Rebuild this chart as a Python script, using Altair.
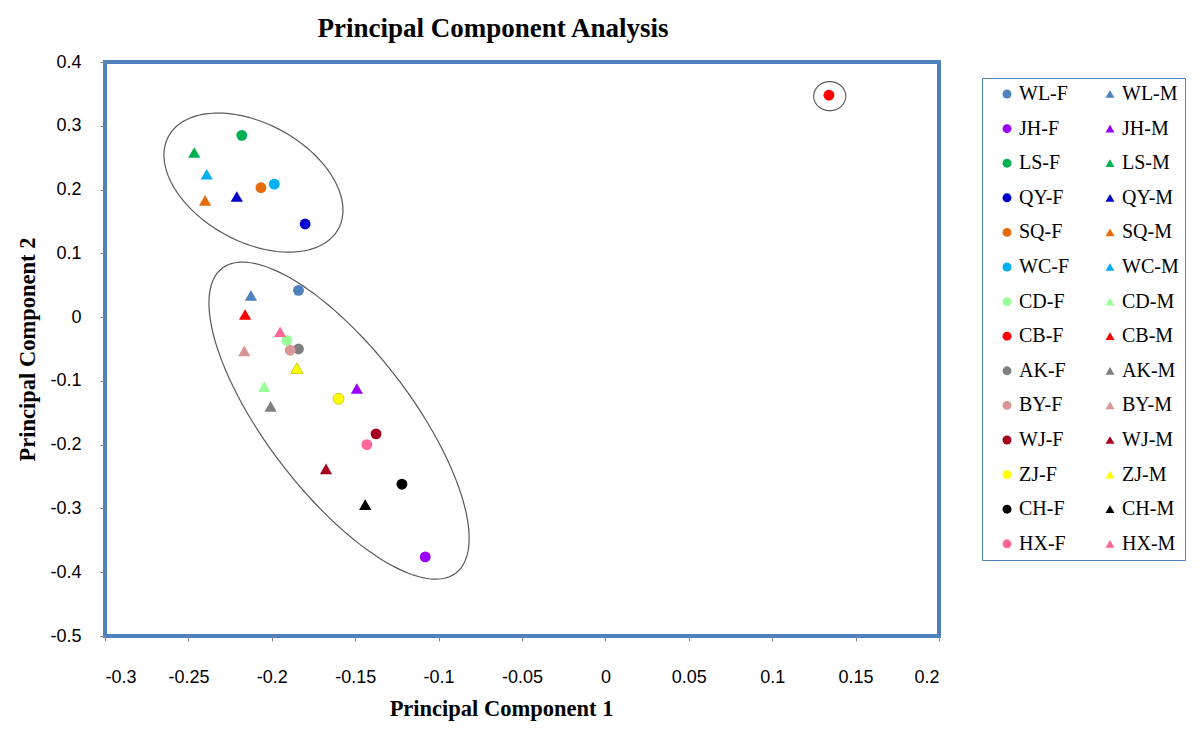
import altair as alt
import numpy as np
import pandas as pd

# ---- data ----
codes = ["WL", "JH", "LS", "QY", "SQ", "WC", "CD", "CB", "AK", "BY", "WJ", "ZJ", "CH", "HX"]
colors = ["#4F81BD", "#9900FF", "#00B050", "#0000CC", "#E46C0A", "#00B0F0", "#99FF99",
          "#FF0000", "#808080", "#D99694", "#A50021", "#FFFF00", "#000000", "#FF6699"]

f_pc1 = [-0.184, -0.108, -0.218, -0.180, -0.2065, -0.1985, -0.191, 0.134, -0.184, -0.189, -0.1375, -0.160, -0.122, -0.143]
f_pc2 = [0.042, -0.376, 0.285, 0.146, 0.203, 0.2085, -0.0365, 0.348, -0.050, -0.052, -0.183, -0.128, -0.262, -0.200]
m_pc1 = [-0.2125, -0.149, -0.2465, -0.221, -0.240, -0.239, -0.2045, -0.216, -0.2007, -0.2165, -0.1675, -0.185, -0.144, -0.195]
m_pc2 = [0.034, -0.112, 0.258, 0.189, 0.183, 0.224, -0.109, 0.004, -0.140, -0.053, -0.238, -0.080, -0.294, -0.023]

x_ticks = [-0.3, -0.25, -0.2, -0.15, -0.1, -0.05, 0, 0.05, 0.1, 0.15, 0.2]
y_ticks = [0.4, 0.3, 0.2, 0.1, 0, -0.1, -0.2, -0.3, -0.4, -0.5]

# cluster ellipses: centre (data units), semi-axes (px), rotation (deg, screen)
ell_cx = [-0.211, -0.1597, 0.1345]
ell_cy = [0.2109, -0.1623, 0.3465]
ell_a = [96.7, 192.0, 16.0]
ell_b = [59.1, 72.0, 14.5]
ell_ang = [28.6, 52.5, 0.0]

W, H = 834, 574
XMIN, XMAX, YMIN, YMAX = -0.3, 0.2, -0.5, 0.4
XPX = W / (XMAX - XMIN)
YPX = H / (YMAX - YMIN)

# ---- tables ----
recs = []
for sex, px, py in (("F", f_pc1, f_pc2), ("M", m_pc1, m_pc2)):
    for i, c in enumerate(codes):
        recs.append({"label": f"{c}-{sex}", "sex": sex, "code": c, "pc1": px[i], "pc2": py[i]})
pts = pd.DataFrame(recs)
# legend fills columns first: all F entries (column 1), then all M entries (column 2)
domain = [f"{c}-F" for c in codes] + [f"{c}-M" for c in codes]
rng_col = colors + colors
rng_shape = ["circle"] * len(codes) + ["triangle-up"] * len(codes)

rows = []
t = np.linspace(0, 2 * np.pi, 181)
for k in range(len(ell_cx)):
    th = np.deg2rad(ell_ang[k])
    dx = ell_a[k] * np.cos(t) * np.cos(th) - ell_b[k] * np.sin(t) * np.sin(th)
    dy = ell_a[k] * np.cos(t) * np.sin(th) + ell_b[k] * np.sin(t) * np.cos(th)
    for j in range(len(t)):
        rows.append({"e": k, "i": j, "ex": ell_cx[k] + dx[j] / XPX, "ey": ell_cy[k] - dy[j] / YPX})
ell = pd.DataFrame(rows)

xscale = alt.Scale(domain=[XMIN, XMAX], nice=False, zero=False)
yscale = alt.Scale(domain=[YMIN, YMAX], nice=False, zero=False)

xaxis = alt.Axis(values=x_ticks, labelExpr="'' + datum.value", title="Principal Component 1",
                 titleFont="Liberation Serif", titleFontSize=22.5, titleFontWeight="bold",
                 titleColor="black", titleX=396, titleY=72, titleBaseline="middle",
                 labelFont="Liberation Sans", labelFontSize=18, labelColor="black",
                 labelPadding=27, tickSize=5, tickColor="#868686", domain=False, grid=False)
yaxis = alt.Axis(values=y_ticks, labelExpr="'' + datum.value", title="Principal Component 2",
                 titleFont="Liberation Serif", titleFontSize=22.5, titleFontWeight="bold",
                 titleColor="black", titleX=-78, titleBaseline="middle",
                 labelFont="Liberation Sans", labelFontSize=18, labelColor="black",
                 labelPadding=19, tickSize=5, tickColor="#868686", domain=False, grid=False)

ellipses = alt.Chart(ell).mark_line(color="#595959", strokeWidth=1.2).encode(
    x=alt.X("ex:Q", scale=xscale, axis=xaxis),
    y=alt.Y("ey:Q", scale=yscale, axis=yaxis),
    detail="e:N",
    order="i:Q",
)

leg = dict(title=None, orient="none", legendX=877, legendY=16, columns=2,
           labelFont="Liberation Serif", labelFontSize=20, labelColor="black",
           symbolSize=80, symbolOffset=9, labelOffset=2, rowPadding=14.6,
           columnPadding=22, padding=6, strokeColor="#4F81BD", fillColor="white")

points = alt.Chart(pts).mark_point(filled=True, opacity=1).encode(
    x=alt.X("pc1:Q", scale=xscale),
    y=alt.Y("pc2:Q", scale=yscale),
    color=alt.Color("label:N", scale=alt.Scale(domain=domain, range=rng_col),
                    legend=alt.Legend(**leg)),
    shape=alt.Shape("label:N", scale=alt.Scale(domain=domain, range=rng_shape),
                    legend=alt.Legend(**leg)),
    size=alt.condition("datum.sex == 'M'", alt.value(150), alt.value(118)),
    stroke=alt.condition("datum.code == 'ZJ'", alt.value("#BDBD00"), alt.value("transparent")),
    strokeWidth=alt.value(0.8),
)

chart = alt.layer(ellipses, points).properties(
    width=W, height=H,
    title=alt.TitleParams("Principal Component Analysis", font="Liberation Serif", fontSize=27,
                          fontWeight="bold", color="black", anchor="middle", dx=-29, offset=10),
    autosize=alt.AutoSizeParams(type="none"),
    padding={"left": 97, "top": 54, "right": 250, "bottom": 109},
).configure(background="white").configure_view(stroke="#4F81BD", strokeWidth=4)

chart.save("out.html", embed_options={"renderer": "svg", "actions": False})
